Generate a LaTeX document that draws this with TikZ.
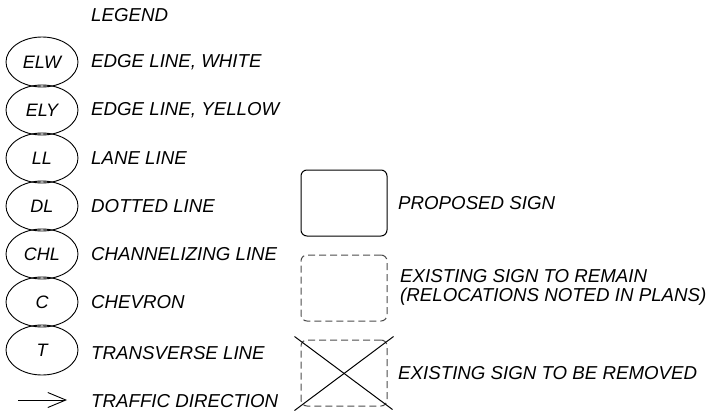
\documentclass[tikz,border=0pt]{standalone}
\usepackage{fontspec}
\setmainfont{Liberation Sans}
\usetikzlibrary{shapes.geometric,calc,arrows.meta}
\begin{document}
\begin{tikzpicture}[x=1pt,y=-1pt,
  lbl/.style={anchor=west,inner sep=0pt,font=\fontsize{18.7}{22}\selectfont\itshape},
  oval/.style={draw,ellipse,line width=0.9pt,minimum width=72pt,minimum height=50pt,inner sep=0pt,font=\fontsize{18}{21}\selectfont\itshape},
  signbox/.style={draw,rounded corners=6pt,line width=1pt,minimum width=86pt,minimum height=66pt,inner sep=0pt},
  oldbox/.style={signbox,dashed,dash pattern=on 7pt off 4pt,draw=black!70}
]
\useasboundingbox (0,0) rectangle (708,415);
\node[lbl] (leg) at (91,15) {LEGEND};
\node[oval] (elw) at (42,62) {ELW};
\node[oval] (ely) at (42,110) {ELY};
\node[oval] (ll) at (42,158) {LL};
\node[oval] (dl) at (42,206) {DL};
\node[oval] (chl) at (42,254) {CHL};
\node[oval] (c) at (42,302) {C};
\node[oval] (t) at (42,350) {T};
\node[lbl] (telw) at (91,62) {EDGE LINE, WHITE};
\node[lbl] (tely) at (91,110) {EDGE LINE, YELLOW};
\node[lbl] (tll) at (91,158) {LANE LINE};
\node[lbl] (tdl) at (91,206) {DOTTED LINE};
\node[lbl] (tchl) at (91,254) {CHANNELIZING LINE};
\node[lbl] (tc) at (91,302) {CHEVRON};
\node[lbl] (tt) at (91,353) {TRANSVERSE LINE};
\coordinate (a1) at (18,400);
\coordinate (a2) at (67,400);
\draw[line width=0.9pt,-{Straight Barb[length=18pt,width=15pt,line width=0.9pt]}] (a1) -- (a2);
\node[lbl] (ttd) at (91,401) {TRAFFIC DIRECTION};
\node[signbox] (b1) at (344,203) {};
\node[lbl] (tb1) at (398,203) {PROPOSED SIGN};
\node[oldbox] (b2) at (344,288) {};
\node[lbl] (tb2a) at (400,276) {EXISTING SIGN TO REMAIN};
\node[lbl] (tb2b) at (400,297) {(RELOCATIONS NOTED IN PLANS)};
\node[oldbox] (b3) at (344,373) {};
\draw[line width=1pt] ($(b3.north west)+(-6,-3)$) -- ($(b3.south east)+(5,3)$);
\draw[line width=1pt] ($(b3.south west)+(-6,4)$) -- ($(b3.north east)+(6,-3)$);
\node[lbl] (tb3) at (398,373) {EXISTING SIGN TO BE REMOVED};
\end{tikzpicture}
\end{document}
